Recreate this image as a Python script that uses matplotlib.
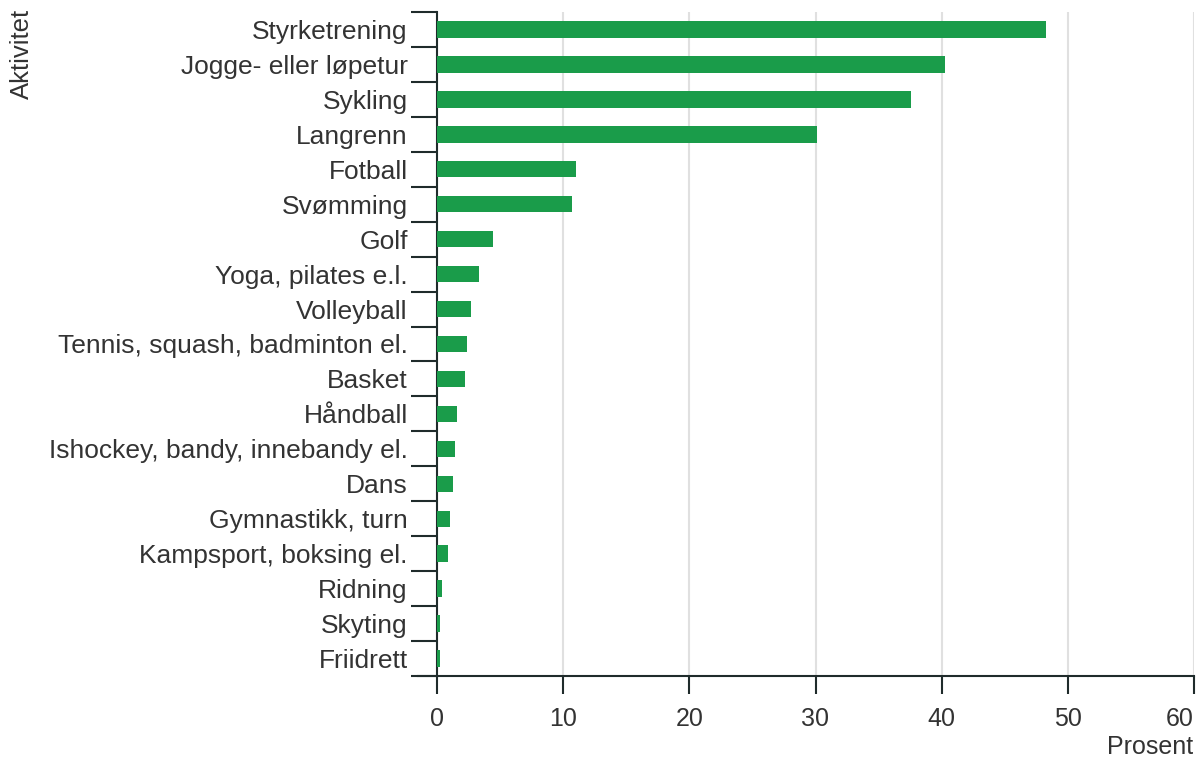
import numpy as np
import matplotlib.pyplot as plt

plt.rcParams["font.family"] = ["Liberation Sans", "DejaVu Sans"]

# Data
activities = ["Styrketrening", "Jogge- eller løpetur", "Sykling", "Langrenn", "Fotball",
              "Svømming", "Golf", "Yoga, pilates e.l.", "Volleyball",
              "Tennis, squash, badminton el.", "Basket", "Håndball",
              "Ishockey, bandy, innebandy el.", "Dans", "Gymnastikk, turn",
              "Kampsport, boksing el.", "Ridning", "Skyting", "Friidrett"]
percent = [48.3, 40.3, 37.6, 30.1, 11.0, 10.7, 4.4, 3.3, 2.7, 2.4, 2.2, 1.55,
           1.4, 1.25, 1.05, 0.9, 0.4, 0.2, 0.2]
x_ticks = [0, 10, 20, 30, 40, 50, 60]

green = "#1a9c4a"
text_col = "#333333"
axis_col = "#1f2b2b"

fig = plt.figure(figsize=(11.97, 7.58), dpi=100)
W, H = 1197, 758
ax = fig.add_axes([437 / W, 1 - 676 / H, (1194 - 437) / W, (676 - 12) / H])

n = len(activities)
ypos = np.arange(n)
ax.barh(ypos, percent, height=0.47, color=green, zorder=3)

ax.set_xlim(0, 60)
ax.set_ylim(n - 0.5, -0.5)

ax.set_xticks(x_ticks)
ax.set_xticklabels([str(t) for t in x_ticks], fontsize=18, color=text_col)
# last label sits inside the figure, right-aligned to its tick
ax.get_xticklabels()[-1].set_horizontalalignment("right")
ax.grid(axis="x", color="#e0e0e0", linewidth=1.5, zorder=0)
ax.set_axisbelow(True)

ax.set_yticks(ypos)
ax.set_yticklabels(activities, fontsize=19, color=text_col)
ax.set_yticks(np.arange(n + 1) - 0.5, minor=True)
ax.tick_params(axis="y", which="major", length=0, pad=21)
ax.tick_params(axis="y", which="minor", length=19, width=1.5, color=axis_col)
ax.tick_params(axis="x", which="major", length=13, width=1.5, color=axis_col, pad=9)

for s in ["top", "right"]:
    ax.spines[s].set_visible(False)
for s in ["left", "bottom"]:
    ax.spines[s].set_color(axis_col)
    ax.spines[s].set_linewidth(1.5)
# extend bottom axis line to the left like the reference
ax.plot([-19 / 12.6, 0], [n - 0.5, n - 0.5], color=axis_col, lw=1.5,
        clip_on=False, zorder=4)

fig.text(1193 / W, 1 - 747 / H, "Prosent", ha="right", va="center",
         fontsize=18, color=text_col)
fig.text(22 / W, 1 - 9 / H, "Aktivitet", ha="center", va="top",
         rotation=90, fontsize=18.5, color=text_col)

fig.savefig("out.png", dpi=100)
